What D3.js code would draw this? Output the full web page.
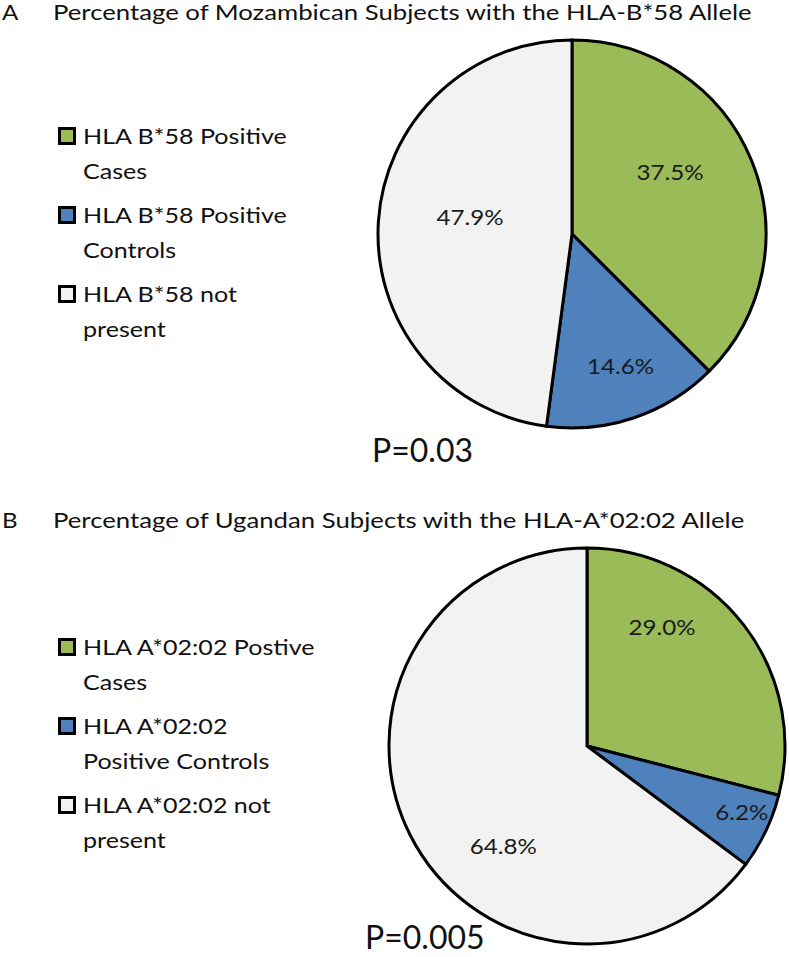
<!DOCTYPE html>
<html><head><meta charset="utf-8">
<script src="https://cdn.jsdelivr.net/npm/d3@7"></script>
<style>body{margin:0;background:#fff} svg{display:block}</style>
</head><body><svg id="c" width="789" height="957"></svg>
<script>
// ---- data ----
const categoriesA = ["HLA B*58 Positive Cases", "HLA B*58 Positive Controls", "HLA B*58 not present"];
const valuesA = [37.5, 14.6, 47.9];
const legendLinesA = [["HLA B*58 Positive", "Cases"], ["HLA B*58 Positive", "Controls"], ["HLA B*58 not", "present"]];
const titleA = "Percentage of Mozambican Subjects with the HLA-B*58 Allele";
const pValueA = "P=0.03";

const categoriesB = ["HLA A*02:02 Postive Cases", "HLA A*02:02 Positive Controls", "HLA A*02:02 not present"];
const valuesB = [29.0, 6.2, 64.8];
const legendLinesB = [["HLA A*02:02 Postive", "Cases"], ["HLA A*02:02", "Positive Controls"], ["HLA A*02:02 not", "present"]];
const titleB = "Percentage of Ugandan Subjects with the HLA-A*02:02 Allele";
const pValueB = "P=0.005";

const sliceColors = ["#9BBB59", "#4F81BD", "#F2F2F2"];

// ---- layout ----
const FONT = "Lato, 'Open Sans', sans-serif";
const panels = [
  {letter: "A", title: titleA, cats: categoriesA, vals: valuesA, legend: legendLinesA, p: pValueA,
   titleY: 20, cx: 572, cy: 234, r: 194, labelNudge: [[-13, -15], [10, 19], [18, -8]],
   legendY: 144, pX: 372, pY: 462},
  {letter: "B", title: titleB, cats: categoriesB, vals: valuesB, legend: legendLinesB, p: pValueB,
   titleY: 528, cx: 587, cy: 746, r: 198, labelNudge: [[-22, -43], [44, 14], [26, 46]],
   legendY: 655, pX: 365, pY: 949}
];

// horizontal stretch to mimic the wide rendering of the original font
function stretch(sel, k) {
  sel.each(function () {
    const w = this.getComputedTextLength();
    d3.select(this).attr("textLength", w * k).attr("lengthAdjust", "spacingAndGlyphs");
  });
}

const svg = d3.select("#c");
const color = d3.scaleOrdinal().range(sliceColors);

panels.forEach((P) => {
  const g = svg.append("g");
  // title
  g.append("text").attr("x", 2).attr("y", P.titleY).attr("font-family", FONT)
    .attr("font-size", 21).attr("fill", "#111").text(P.letter).call(stretch, 1.15);
  g.append("text").attr("x", 53).attr("y", P.titleY).attr("font-family", FONT)
    .attr("font-size", 21).attr("fill", "#111").text(P.title).call(stretch, 1.225);

  const pie = d3.pie().sort(null).value(d => d)(P.vals);
  const arc = d3.arc().innerRadius(0).outerRadius(P.r);
  const labelArc = d3.arc().innerRadius(P.r * 0.62).outerRadius(P.r * 0.62);
  const pg = g.append("g").attr("transform", `translate(${P.cx},${P.cy})`);
  color.domain(P.cats);
  pg.selectAll("path").data(pie).join("path")
    .attr("d", arc).attr("fill", (d, i) => color(P.cats[i]))
    .attr("stroke", "#000").attr("stroke-width", 3).attr("stroke-linejoin", "round");
  pg.selectAll("text.lbl").data(pie).join("text").attr("class", "lbl")
    .attr("x", (d, i) => labelArc.centroid(d)[0] + P.labelNudge[i][0])
    .attr("y", (d, i) => labelArc.centroid(d)[1] + P.labelNudge[i][1])
    .attr("dy", "0.35em").attr("text-anchor", "middle")
    .attr("font-family", FONT).attr("font-size", 21).attr("fill", "#1a1a1a")
    .text(d => d.value.toFixed(1) + "%").call(stretch, 1.15);

  // legend
  const lg = g.append("g");
  P.legend.forEach((lines, i) => {
    const base = P.legendY + i * 79;
    lg.append("rect").attr("x", 59.5).attr("y", base - 15.5).attr("width", 15).attr("height", 15)
      .attr("fill", color(P.cats[i])).attr("stroke", "#000").attr("stroke-width", 3);
    lines.forEach((t, j) => {
      lg.append("text").attr("x", 83).attr("y", base + j * 34.5).attr("font-family", FONT)
        .attr("font-size", 22).attr("fill", "#111").text(t).call(stretch, 1.14);
    });
  });

  g.append("text").attr("x", P.pX).attr("y", P.pY).attr("font-family", FONT)
    .attr("font-size", 32).attr("fill", "#111").text(P.p);
});
</script></body></html>
